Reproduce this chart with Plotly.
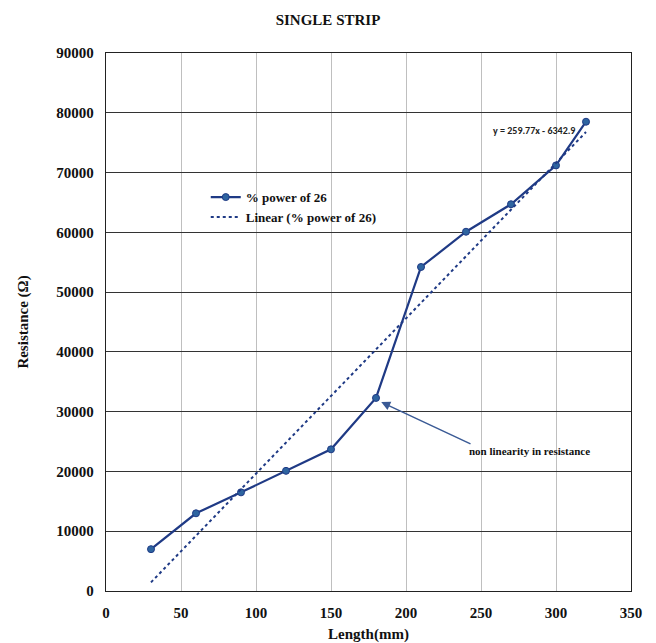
import plotly.graph_objects as go

length_mm = [30, 60, 90, 120, 150, 180, 210, 240, 270, 300, 320]
resistance = [7000, 13000, 16500, 20100, 23700, 32300, 54200, 60100, 64700, 71200, 78500]
trend_x = [30, 320]
trend_y = [1450, 76780]
x_ticks = [0, 50, 100, 150, 200, 250, 300, 350]
y_ticks = [0, 10000, 20000, 30000, 40000, 50000, 60000, 70000, 80000, 90000]

serif = "Liberation Serif, Times New Roman, serif"

fig = go.Figure()
fig.add_trace(go.Scatter(
    x=length_mm, y=resistance, mode="lines+markers", name="<b>% power of 26</b>",
    line=dict(color="#1F3A85", width=2.2),
    marker=dict(color="#2E64A0", size=7, line=dict(color="#1F3A85", width=1)),
))
fig.add_trace(go.Scatter(
    x=trend_x, y=trend_y, mode="lines", name="<b>Linear (% power of 26)</b>",
    line=dict(color="#1F3A85", width=2, dash="dot"),
))

fig.add_annotation(x=314, y=77100, text="<b>y = 259.77x - 6342.9</b>", showarrow=False,
                   xanchor="right", yanchor="middle",
                   font=dict(family="Carlito, Liberation Sans, sans-serif", size=10, color="#222"))
fig.add_annotation(x=183.5, y=31600, ax=244, ay=24500, axref="x", ayref="y",
                   text="", showarrow=True, arrowhead=2, arrowsize=1.2, arrowwidth=1.5,
                   arrowcolor="#3A5A95")
fig.add_annotation(x=282, y=23500, text="<b>non linearity in resistance</b>", showarrow=False,
                   font=dict(family=serif, size=11, color="#111"), xanchor="center")

fig.update_layout(
    width=656, height=643,
    margin=dict(l=106, r=25, t=53, b=52),
    paper_bgcolor="white", plot_bgcolor="white",
    title=dict(text="<b>SINGLE STRIP</b>", x=0.5, xanchor="center", y=0.97, yanchor="middle",
               font=dict(family=serif, size=15, color="#111")),
    font=dict(family=serif, color="#111"),
    showlegend=True,
    legend=dict(x=0.19, y=0.76, xanchor="left", yanchor="top", bgcolor="rgba(0,0,0,0)",
                font=dict(family=serif, size=13, color="#111"), tracegroupgap=2),
    xaxis=dict(range=[0, 350], tickvals=x_ticks, ticktext=[f"<b>{v}</b>" for v in x_ticks],
               showgrid=True, gridcolor="#BFBFBF", gridwidth=1.3, zeroline=False,
               showline=True, linecolor="#222", linewidth=1.3, mirror=True, automargin=False,
               ticks="", ticklabelstandoff=8, tickfont=dict(family=serif, size=15, color="#111"),
               title=dict(text="<b>Length(mm)</b>", font=dict(family=serif, size=15, color="#111"),
                          standoff=10)),
    yaxis=dict(range=[0, 90000], tickvals=y_ticks, ticktext=[f"<b>{v}</b>" for v in y_ticks],
               showgrid=True, gridcolor="#333", gridwidth=1.2, zeroline=False,
               showline=True, linecolor="#222", linewidth=1.3, mirror=True, automargin=False,
               ticks="", ticklabelstandoff=8, tickfont=dict(family=serif, size=15, color="#111"),
               title=dict(text="<b>Resistance (Ω)</b>", font=dict(family=serif, size=15, color="#111"),
                          standoff=24)),
)

fig.write_html("out.html", config={"displayModeBar": False},
               post_script="document.body.style.margin='0px';")
